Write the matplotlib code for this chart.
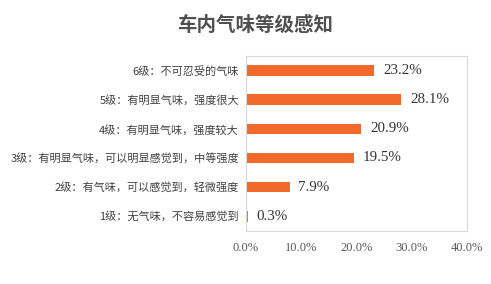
import matplotlib
matplotlib.use("Agg")
import matplotlib.pyplot as plt

# data (top to bottom in the picture)
levels = ["6级：不可忍受的气味",
          "5级：有明显气味，强度很大",
          "4级：有明显气味，强度较大",
          "3级：有明显气味，可以明显感觉到，中等强度",
          "2级：有气味，可以感觉到，轻微强度",
          "1级：无气味，不容易感觉到"]
shares = [23.2, 28.1, 20.9, 19.5, 7.9, 0.3]
xticks = [0, 10, 20, 30, 40]

plt.rcParams["font.family"] = ["Noto Sans CJK SC", "DejaVu Sans"]

fig = plt.figure(figsize=(4.91, 2.84), dpi=100)
ax = fig.add_axes([0.501, 0.187, 0.450, 0.616])

pos = list(range(len(levels)))[::-1]
ax.barh(pos, shares, height=0.36, color="#F26A2B")
for p, v in zip(pos, shares):
    ax.text(v + 1.6, p, f"{v:.1f}%", va="center", ha="left",
            fontsize=10.8, family="Liberation Serif", color="#333333")

ax.set_xlim(0, 40)
ax.set_ylim(-0.5, 5.5)
ax.set_yticks(pos)
ax.set_yticklabels(levels, fontsize=8, color="#404040")
ax.set_xticks(xticks)
ax.set_xticklabels([f"{t:.1f}%" for t in xticks], fontsize=9,
                   family="Liberation Serif", color="#595959")
ax.tick_params(length=0, pad=5)
ax.tick_params(axis="x", pad=8)
for s in ax.spines.values():
    s.set_color("#D9D9D9")
    s.set_linewidth(0.8)

fig.text(0.52, 0.91, "车内气味等级感知", ha="center", va="center",
         fontsize=14, fontweight="bold", color="#505050")

fig.savefig("out.png", dpi=100)
